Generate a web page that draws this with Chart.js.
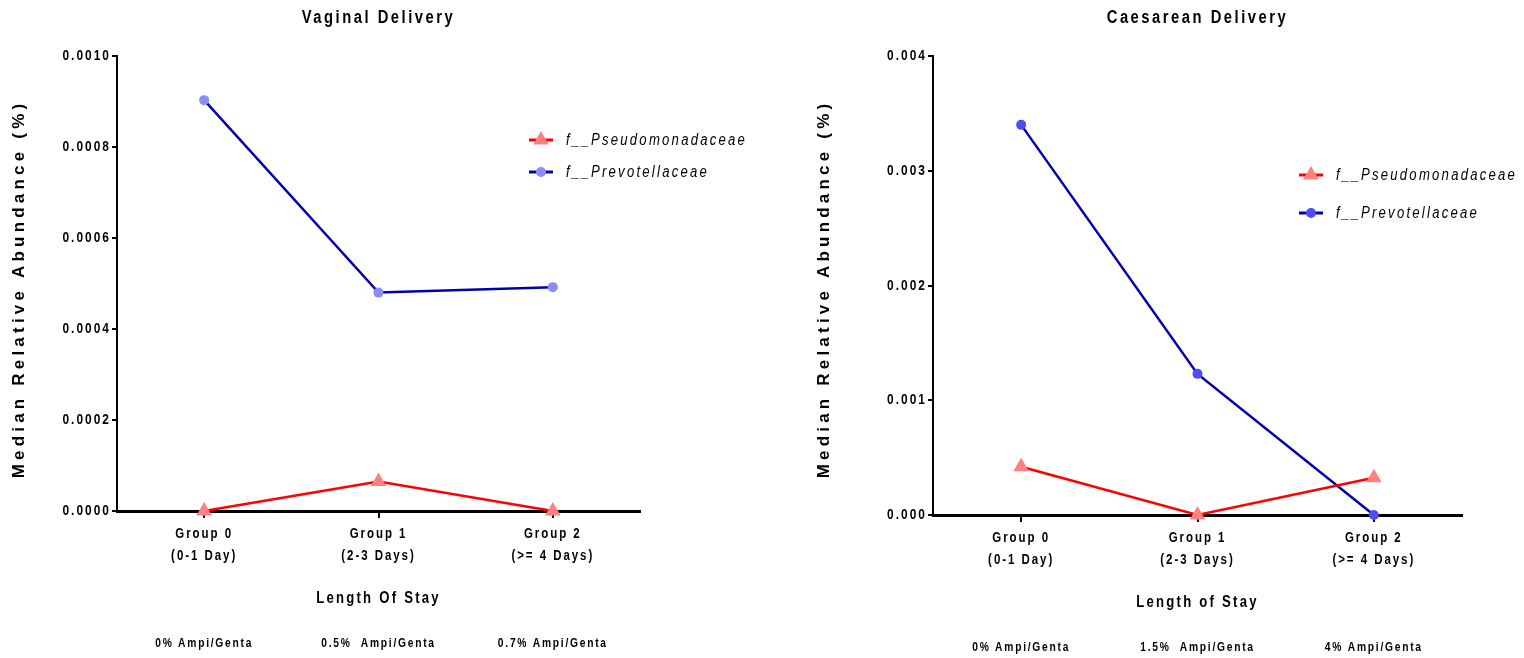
<!DOCTYPE html>
<html>
<head>
<meta charset="utf-8">
<title>Median Relative Abundance by Length of Stay</title>
<script src="https://cdn.jsdelivr.net/npm/chart.js@4"></script>
<style>
    html, body { margin: 0; padding: 0; background: #fff; }
    .wrap { display: flex; width: 1524px; height: 658px; }
    canvas { display: block; }
</style>
</head>
<body>
<div class="wrap">
    <canvas id="vaginal-chart" width="762" height="658"></canvas>
    <canvas id="caesarean-chart" width="762" height="658"></canvas>
</div>
<script>
    // --- Data ---
    const categories = [['Group 0', '(0-1 Day)'], ['Group 1', '(2-3 Days)'], ['Group 2', '(>= 4 Days)']];
    const seriesNames = ['f__Pseudomonadaceae', 'f__Prevotellaceae'];
    const yTitle = 'Median Relative Abundance (%)';

    const vaginalAmpi = ['0% Ampi/Genta', '0.5%  Ampi/Genta', '0.7% Ampi/Genta'];
    const vaginalPseudomonadaceae = [0, 0.000065, 0];
    const vaginalPrevotellaceae = [0.000903, 0.00048, 0.000492];
    const vaginalYMax = 0.001;
    const vaginalYStep = 0.0002;
    const vaginalYDecimals = 4;

    const caesareanAmpi = ['0% Ampi/Genta', '1.5%  Ampi/Genta', '4% Ampi/Genta'];
    const caesareanPseudomonadaceae = [0.00042, 0, 0.000325];
    const caesareanPrevotellaceae = [0.0034, 0.00123, 0];
    const caesareanYMax = 0.004;
    const caesareanYStep = 0.001;
    const caesareanYDecimals = 3;

    const FONT = '"Liberation Sans", Arial, sans-serif';
    const NARROW = 0.82; // squeeze Liberation Sans to look like Arial Narrow

    // all text goes through here: narrow + letter spaced (except the y title)
    function condenseText(ctx) {
        const fill = ctx.fillText;
        ctx.fillText = function (text, x, y) {
            const m = /([\d.]+)px/.exec(this.font);
            const size = m ? parseFloat(m[1]) : 12;
            this.save();
            if (this.wideText) {
                this.letterSpacing = this.wideText + 'px';
                fill.call(this, text, x, y);
            } else {
                this.letterSpacing = (size * (this.spacingRatio || 0.14) / NARROW) + 'px';
                this.translate(x, y);
                this.scale(NARROW, 1);
                fill.call(this, text, 0, 0);
            }
            this.restore();
        };
    }

    // legend and rotated y title
    const decorPlugin = {
        id: 'decor',
        afterDraw(chart, args, opts) {
            const ctx = chart.ctx;

            ctx.save();
            ctx.translate(opts.yTitleX, opts.yTitleY);
            ctx.rotate(-Math.PI / 2);
            ctx.font = 'bold 17px ' + FONT;
            ctx.wideText = 4.2;
            ctx.textAlign = 'center';
            ctx.textBaseline = 'middle';
            ctx.fillStyle = '#000';
            ctx.fillText(yTitle, 0, 0);
            ctx.wideText = 0;
            ctx.restore();

            chart.data.datasets.forEach((ds, i) => {
                const x = opts.legendX;
                const y = opts.legendY[i];
                ctx.save();
                ctx.strokeStyle = ds.borderColor;
                ctx.lineWidth = 3;
                ctx.beginPath();
                ctx.moveTo(x, y);
                ctx.lineTo(x + 24, y);
                ctx.stroke();
                ctx.fillStyle = ds.pointBackgroundColor;
                Chart.helpers.drawPoint(ctx, {
                    pointStyle: ds.pointStyle,
                    radius: ds.pointRadius,
                    rotation: 0,
                    borderWidth: 0
                }, x + 12, y);
                ctx.font = 'italic 16px ' + FONT;
                ctx.fillStyle = '#000';
                ctx.textAlign = 'left';
                ctx.textBaseline = 'middle';
                ctx.fillText(ds.label, x + 37, y + 1);
                ctx.restore();
            });
        }
    };

    function makeChart(id, cfg) {
        const ctx = document.getElementById(id).getContext('2d');
        condenseText(ctx);
        return new Chart(ctx, {
            type: 'line',
            data: {
                labels: categories,
                datasets: [{
                    label: seriesNames[0],
                    data: cfg.pseudo,
                    borderColor: '#ff0000',
                    borderWidth: 2.5,
                    pointStyle: 'triangle',
                    pointRadius: 9,
                    pointBackgroundColor: '#ff8080',
                    pointBorderWidth: 0,
                    clip: false
                }, {
                    label: seriesNames[1],
                    data: cfg.prevo,
                    borderColor: '#0000b0',
                    borderWidth: 2.5,
                    pointStyle: 'circle',
                    pointRadius: 5,
                    pointBackgroundColor: cfg.blueMarker,
                    pointBorderWidth: 0,
                    clip: false
                }]
            },
            options: {
                responsive: false,
                animation: false,
                devicePixelRatio: 1,
                layout: { padding: { right: cfg.padRight } },
                scales: {
                    x: {
                        offset: true,
                        grid: { drawOnChartArea: false, tickLength: 7, color: '#000', lineWidth: 2 },
                        border: { color: '#000', width: 3 },
                        ticks: {
                            color: '#000',
                            padding: 5,
                            maxRotation: 0,
                            font: { family: FONT, size: 14, weight: 'bold', lineHeight: '22px' }
                        },
                        title: {
                            display: true,
                            text: cfg.xTitle,
                            color: '#000',
                            padding: { top: 0, bottom: 3 },
                            font: { family: FONT, size: 16, weight: 'bold', lineHeight: 1.2 }
                        },
                        afterFit: s => { s.height = cfg.xHeight; }
                    },
                    x2: {
                        type: 'category',
                        position: 'bottom',
                        weight: 1,
                        offset: true,
                        labels: cfg.ampi,
                        grid: { display: false, drawTicks: false },
                        border: { display: false },
                        ticks: {
                            color: '#000',
                            padding: 24,
                            maxRotation: 0,
                            font: { family: FONT, size: 12.5, weight: 'bold', lineHeight: 1.3 }
                        },
                        afterFit: s => { s.height = 658 - cfg.bottom - cfg.xHeight; }
                    },
                    y: {
                        min: 0,
                        max: cfg.yMax,
                        grid: { drawOnChartArea: false, tickLength: 5, color: '#000', lineWidth: 2 },
                        border: { color: '#000', width: 2 },
                        ticks: {
                            stepSize: cfg.yStep,
                            padding: 1,
                            color: '#000',
                            font: { family: FONT, size: 14.5, weight: 'bold' },
                            callback: v => v.toFixed(cfg.decimals)
                        },
                        afterFit: s => { s.width = cfg.yWidth; }
                    }
                },
                plugins: {
                    legend: { display: false },
                    tooltip: { enabled: false },
                    title: {
                        display: true,
                        text: cfg.title,
                        color: '#000',
                        fullSize: false,
                        padding: { top: 7.2, bottom: 27.2 },
                        font: { family: FONT, size: 18, weight: 'bold', lineHeight: 1.2 }
                    },
                    decor: {
                        yTitleX: cfg.yTitleX,
                        yTitleY: 289,
                        legendX: cfg.legendX,
                        legendY: cfg.legendY
                    }
                }
            },
            plugins: [decorPlugin]
        });
    }

    makeChart('vaginal-chart', {
        title: 'Vaginal Delivery',
        xTitle: 'Length Of Stay',
        ampi: vaginalAmpi,
        pseudo: vaginalPseudomonadaceae,
        prevo: vaginalPrevotellaceae,
        yMax: vaginalYMax,
        yStep: vaginalYStep,
        decimals: vaginalYDecimals,
        blueMarker: '#8c8cf2',
        yWidth: 117,
        padRight: 122,
        bottom: 511,
        xHeight: 100,
        yTitleX: 19,
        legendX: 529,
        legendY: [140, 172]
    });

    makeChart('caesarean-chart', {
        title: 'Caesarean Delivery',
        xTitle: 'Length of Stay',
        ampi: caesareanAmpi,
        pseudo: caesareanPseudomonadaceae,
        prevo: caesareanPrevotellaceae,
        yMax: caesareanYMax,
        yStep: caesareanYStep,
        decimals: caesareanYDecimals,
        blueMarker: '#4d4df0',
        yWidth: 171,
        padRight: 62,
        bottom: 515,
        xHeight: 100.6,
        yTitleX: 62,
        legendX: 537,
        legendY: [175, 213]
    });
</script>
</body>
</html>
